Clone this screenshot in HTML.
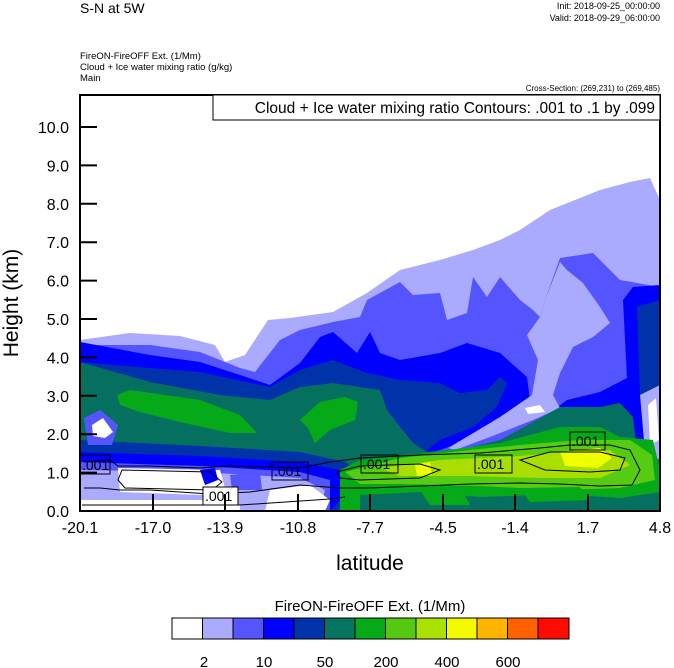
<!DOCTYPE html>
<html><head><meta charset="utf-8"><style>
html,body{margin:0;padding:0;background:#fff;width:674px;height:668px;overflow:hidden}
svg{display:block;font-family:"Liberation Sans",sans-serif}
</style></head><body>
<svg width="674" height="668" viewBox="0 0 674 668" xmlns="http://www.w3.org/2000/svg">
<text x="80" y="13" font-size="14">S-N at 5W</text>
<text x="660" y="9" font-size="9" text-anchor="end">Init: 2018-09-25_00:00:00</text>
<text x="660" y="21" font-size="9" text-anchor="end">Valid: 2018-09-29_06:00:00</text>
<text x="80" y="59" font-size="9.5">FireON-FireOFF Ext.   (1/Mm)</text>
<text x="80" y="70" font-size="9.5">Cloud + Ice water mixing ratio   (g/kg)</text>
<text x="80" y="81" font-size="9.5">Main</text>
<text x="660" y="91" font-size="8" text-anchor="end">Cross-Section: (269,231) to (269,485)</text>
<defs><clipPath id="c"><rect x="80" y="95" width="580" height="416"/></clipPath></defs>
<g clip-path="url(#c)">
<!-- level1 light lavender -->
<path fill="#aaaaff" d="M80,340 L130,333 L180,336 L215,345 L225,362 L245,355 L268,320 L290,318 L333,312 L367,293 L400,270 L440,260 L473,250 L500,240 L520,230 L550,210 L600,190 L630,182 L650,178 L660,200 L660,511 L80,511Z"/>
<!-- level2 -->
<path fill="#5555ff" d="M80,345 L150,345 L200,352 L240,368 L255,372 L280,340 L300,330 L333,322 L360,317 L367,300 L400,282 L413,295 L440,293 L447,320 L467,313 L473,277 L487,297 L500,277 L520,300 L533,310 L540,317 L545,300 L560,258 L593,253 L620,280 L660,287 L660,511 L80,511Z"/>
<!-- level3 blue -->
<path fill="#0000ff" d="M80,342 L150,355 L200,362 L240,375 L270,385 L300,363 L320,337 L333,332 L357,353 L370,332 L380,353 L400,360 L440,353 L467,343 L500,353 L527,377 L530,400 L510,420 L470,440 L440,450 L420,456 L430,466 L500,446 L533,425 L567,400 L600,392 L627,378 L623,300 L633,287 L660,285 L660,511 L80,511Z"/>
<!-- light intrusion -->
<path fill="#aaaaff" d="M540,317 L527,335 L538,360 L532,395 L500,417 L470,435 L448,448 L455,450 L490,437 L533,420 L560,408 L553,395 L560,373 L573,347 L593,337 L610,323 L600,307 L583,283 L567,270 L560,262 L545,300Z"/>
<path fill="#ffffff" d="M525,408 L540,405 L545,412 L528,414Z"/>
<!-- level4 dark blue -->
<path fill="#0033aa" d="M80,362 L150,368 L200,372 L270,387 L300,370 L333,360 L367,373 L400,380 L440,383 L460,393 L487,390 L500,377 L507,383 L497,407 L473,427 L440,440 L425,452 L440,460 L427,470 L360,470 L80,470Z"/>
<path fill="#0033aa" d="M637,307 L660,300 L660,400 L640,395Z"/>
<!-- right edge white/light -->
<path fill="#aaaaff" d="M640,395 L660,385 L660,460 L645,452Z"/>
<path fill="#ffffff" d="M648,405 L656,398 L659,440 L650,445Z"/>
<!-- level5 teal -->
<path fill="#067060" d="M80,362 L150,382 L220,395 L270,400 L300,387 L333,383 L380,390 L387,410 L397,423 L413,443 L427,452 L467,448 L500,440 L533,422 L560,407 L600,407 L620,403 L633,417 L637,450 L660,460 L660,511 L80,511Z"/>
<!-- left bottom blues below teal -->
<path fill="#0033aa" d="M80,440 L200,446 L300,452 L345,462 L360,472 L360,511 L80,511Z"/>
<path fill="#0000ff" d="M80,452 L200,456 L300,462 L340,470 L350,490 L330,511 L80,511Z"/>
<path fill="#5555ff" d="M80,462 L200,466 L300,472 L330,480 L330,511 L80,511Z"/>
<path fill="#aaaaff" d="M80,470 L200,472 L300,478 L325,490 L320,511 L80,511Z"/>
<path fill="#ffffff" d="M118,468 L220,470 L225,488 L200,495 L120,492Z"/>
<path fill="#ffffff" d="M270,490 L310,485 L330,500 L325,511 L265,511Z"/>
<path fill="#ffffff" d="M80,500 L200,500 L240,505 L240,511 L80,511Z"/>
<path fill="#0000ff" d="M200,470 L215,468 L218,480 L205,485Z"/>
<path fill="#5555ff" d="M230,475 L260,472 L262,490 L232,490Z"/>
<!-- white spot left -->
<path fill="#5555ff" d="M84,418 L100,410 L118,425 L112,445 L88,445Z"/>
<path fill="#ffffff" d="M92,425 L103,418 L113,432 L105,438 L93,436Z"/>
<!-- green blobs -->
<path fill="#06aa18" d="M117,395 L130,390 L200,400 L240,415 L257,433 L230,433 L180,422 L140,412 L120,405Z"/>
<path fill="#06aa18" d="M300,420 L320,402 L345,397 L358,402 L355,420 L330,430 L315,443 L308,428Z"/>
<!-- right greens -->
<path fill="#06aa18" d="M340,470 L360,460 L427,453 L500,443 L560,427 L600,427 L620,437 L653,440 L660,470 L660,511 L340,511Z"/>
<path fill="#55cc11" d="M345,472 L400,458 L470,450 L520,445 L580,440 L630,440 L652,455 L655,480 L620,488 L560,490 L480,486 L400,484 L360,484Z"/>
<path fill="#aadd00" d="M380,468 L440,460 L520,456 L560,452 L610,450 L630,465 L600,478 L540,478 L470,476 L400,476Z"/>
<path fill="#eeff00" d="M560,452 L600,448 L612,458 L598,468 L565,466Z"/>
<path fill="#eeff00" d="M415,465 L430,462 L432,475 L417,476Z"/>
<path fill="#067060" d="M360,495 L420,492 L480,497 L560,494 L620,498 L660,492 L660,511 L360,511Z"/>
<path fill="#06aa18" d="M420,490 L460,488 L470,505 L430,505Z M520,488 L580,487 L590,500 L530,502Z"/>
<!-- contour lines -->
<g fill="none" stroke="#000" stroke-width="1">
<path d="M84,462 L110,460 L118,466 L150,466 L200,468 L230,466 L300,468 L330,462 L360,458 L420,455 L480,453 L540,448 L570,445 L610,445 L630,450 L640,470 L632,485 L600,486 L560,484 L520,483 L470,484 L420,486 L370,488 L340,488 L300,485 L250,492 L210,494 L150,490 L120,490 L100,488 L84,488"/>
<path d="M122,470 L210,472 L222,482 L212,490 L125,488 L118,480Z"/>
<path d="M337,472 L360,466 L420,464 L440,470 L420,478 L360,480 L340,478Z"/>
<path d="M520,460 L550,452 L600,452 L625,458 L620,470 L590,472 L545,470Z"/>
<path d="M82,505 L240,505 L330,499 L345,497"/>
</g>
</g>
<!-- contour labels -->
<g font-size="14" stroke-width="1">
<rect x="80" y="455" width="30" height="19" fill="none" stroke="#000"/><text x="82" y="470">.001</text>
<rect x="203" y="487" width="35" height="18" fill="#fff" stroke="#000"/><text x="205" y="501">.001</text>
<rect x="272" y="462" width="36" height="18" fill="none" stroke="#000"/><text x="274" y="476">.001</text>
<rect x="361" y="455" width="37" height="18" fill="none" stroke="#000"/><text x="363" y="469">.001</text>
<rect x="475" y="455" width="37" height="18" fill="none" stroke="#000"/><text x="477" y="469">.001</text>
<rect x="570" y="432" width="35" height="18" fill="none" stroke="#000"/><text x="572" y="446">.001</text>
</g>
<!-- frame -->
<rect x="80" y="95" width="580" height="416" fill="none" stroke="#000" stroke-width="2"/>
<rect x="213" y="95" width="447" height="25" fill="#fff" stroke="#000" stroke-width="1"/>
<text x="655" y="113" font-size="15.5" text-anchor="end">Cloud + Ice water mixing ratio Contours: .001 to .1 by .099</text>
<!-- ticks -->
<g stroke="#000" stroke-width="2">
<line x1="80" y1="511" x2="97" y2="511"/><line x1="80" y1="472.6" x2="97" y2="472.6"/><line x1="80" y1="434.2" x2="97" y2="434.2"/><line x1="80" y1="395.8" x2="97" y2="395.8"/><line x1="80" y1="357.4" x2="97" y2="357.4"/><line x1="80" y1="319" x2="97" y2="319"/><line x1="80" y1="280.6" x2="97" y2="280.6"/><line x1="80" y1="242.2" x2="97" y2="242.2"/><line x1="80" y1="203.8" x2="97" y2="203.8"/><line x1="80" y1="165.4" x2="97" y2="165.4"/><line x1="80" y1="127" x2="97" y2="127"/>
<line x1="153" y1="511" x2="153" y2="494"/><line x1="225" y1="511" x2="225" y2="494"/><line x1="298" y1="511" x2="298" y2="494"/><line x1="370" y1="511" x2="370" y2="494"/><line x1="443" y1="511" x2="443" y2="494"/><line x1="515" y1="511" x2="515" y2="494"/><line x1="588" y1="511" x2="588" y2="494"/>
</g>
<g font-size="16" text-anchor="end">
<text x="69" y="517">0.0</text><text x="69" y="478.6">1.0</text><text x="69" y="440.2">2.0</text><text x="69" y="401.8">3.0</text><text x="69" y="363.4">4.0</text><text x="69" y="325">5.0</text><text x="69" y="286.6">6.0</text><text x="69" y="248.2">7.0</text><text x="69" y="209.8">8.0</text><text x="69" y="171.4">9.0</text><text x="69" y="133">10.0</text>
</g>
<g font-size="16" text-anchor="middle">
<text x="80" y="533">-20.1</text><text x="153" y="533">-17.0</text><text x="225" y="533">-13.9</text><text x="298" y="533">-10.8</text><text x="370" y="533">-7.7</text><text x="443" y="533">-4.5</text><text x="515" y="533">-1.4</text><text x="588" y="533">1.7</text><text x="660" y="533">4.8</text>
</g>
<text x="370" y="570" font-size="21" text-anchor="middle">latitude</text>
<text transform="translate(18,303) rotate(-90)" font-size="21" text-anchor="middle">Height (km)</text>
<!-- colorbar -->
<text x="370" y="611" font-size="15" text-anchor="middle">FireON-FireOFF Ext.  (1/Mm)</text>
<g stroke="#000" stroke-width="1">
<rect x="172" y="618" width="30.5" height="21" fill="#ffffff"/>
<rect x="202.5" y="618" width="30.5" height="21" fill="#aaaaff"/>
<rect x="233" y="618" width="30.5" height="21" fill="#5555ff"/>
<rect x="263.5" y="618" width="30.5" height="21" fill="#0000ff"/>
<rect x="294" y="618" width="30.5" height="21" fill="#0033aa"/>
<rect x="324.5" y="618" width="30.5" height="21" fill="#067560"/>
<rect x="355" y="618" width="30.5" height="21" fill="#06aa18"/>
<rect x="385.5" y="618" width="30.5" height="21" fill="#55c811"/>
<rect x="416" y="618" width="30.5" height="21" fill="#aae100"/>
<rect x="446.5" y="618" width="30.5" height="21" fill="#f3fa00"/>
<rect x="477" y="618" width="30.5" height="21" fill="#ffb400"/>
<rect x="507.5" y="618" width="30.5" height="21" fill="#ff6000"/>
<rect x="538" y="618" width="31" height="21" fill="#ff0a00"/>
</g>
<g font-size="15" text-anchor="middle">
<text x="204" y="667">2</text><text x="264" y="667">10</text><text x="325" y="667">50</text><text x="386" y="667">200</text><text x="447" y="667">400</text><text x="508" y="667">600</text>
</g>
</svg>
</body></html>
